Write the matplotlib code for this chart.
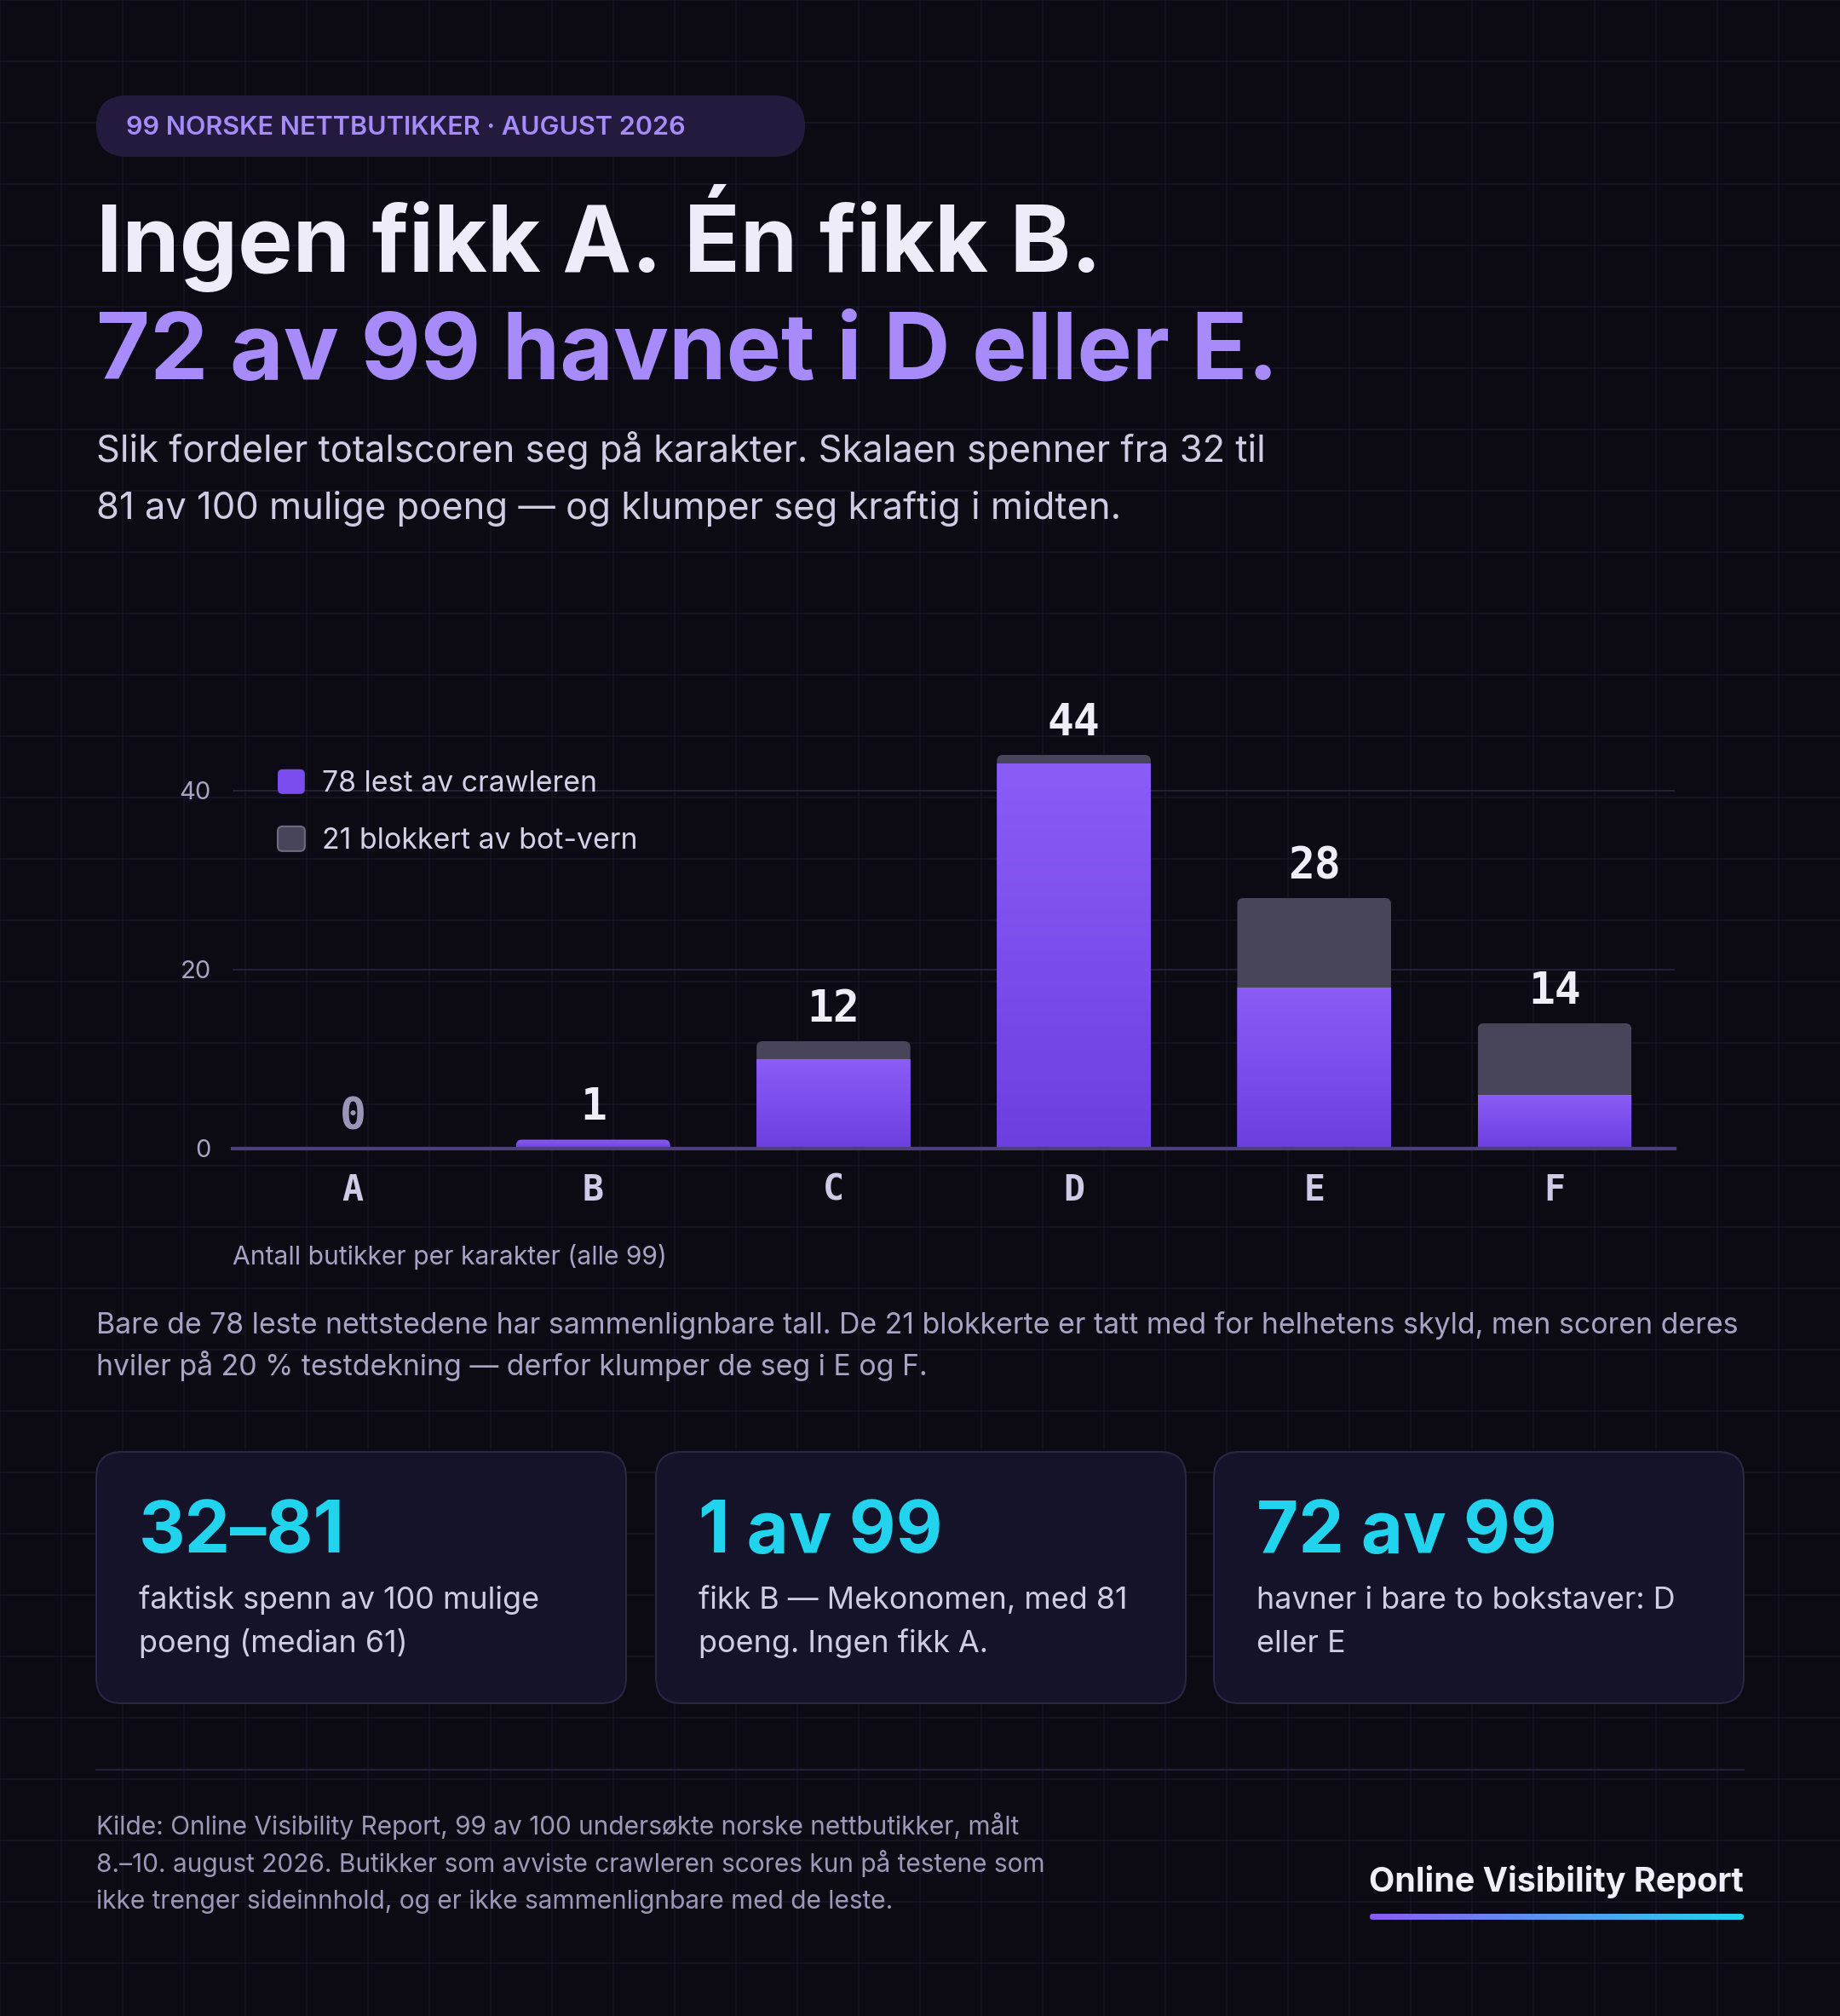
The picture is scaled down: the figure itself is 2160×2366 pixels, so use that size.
import numpy as np
import matplotlib
matplotlib.use("Agg")
import matplotlib.pyplot as plt
from matplotlib.patches import FancyBboxPatch, Patch
from matplotlib.colors import LinearSegmentedColormap
from matplotlib.legend_handler import HandlerPatch

# data
grades = ["A", "B", "C", "D", "E", "F"]
read_counts = [0, 1, 10, 43, 18, 6]
blocked_counts = [0, 0, 2, 1, 10, 8]
y_ticks = [0, 20, 40]

pill_text = "99 NORSKE NETTBUTIKKER · AUGUST 2026"
title_1 = "Ingen fikk A. Én fikk B."
title_2 = "72 av 99 havnet i D eller E."
subtitle_lines = [
    "Slik fordeler totalscoren seg på karakter. Skalaen spenner fra 32 til",
    "81 av 100 mulige poeng — og klumper seg kraftig i midten.",
]
axis_caption = "Antall butikker per karakter (alle 99)"
note_lines = [
    "Bare de 78 leste nettstedene har sammenlignbare tall. De 21 blokkerte er tatt med for helhetens skyld, men scoren deres",
    "hviler på 20 % testdekning — derfor klumper de seg i E og F.",
]
card_numbers = ["32–81", "1 av 99", "72 av 99"]
card_texts = [
    ["faktisk spenn av 100 mulige", "poeng (median 61)"],
    ["fikk B — Mekonomen, med 81", "poeng. Ingen fikk A."],
    ["havner i bare to bokstaver: D", "eller E"],
]
footer_lines = [
    "Kilde: Online Visibility Report, 99 av 100 undersøkte norske nettbutikker, målt",
    "8.–10. august 2026. Butikker som avviste crawleren scores kun på testene som",
    "ikke trenger sideinnhold, og er ikke sammenlignbare med de leste.",
]
brand = "Online Visibility Report"

plt.rcParams['font.family'] = ['Inter', 'DejaVu Sans']

BG = '#0c0b14'
PURPLE = '#7c4dee'
GRAY = '#48445a'
W, H = 2160, 2366

fig = plt.figure(figsize=(W / 100, H / 100), dpi=100, facecolor=BG)

# background layer in pixel coordinates
bg = fig.add_axes([0, 0, 1, 1])
bg.set_zorder(0)
bg.axis('off')
grid_pos = np.arange(0, max(W, H), 72)
bg.vlines(grid_pos[grid_pos < W], 0, H, color='#141223', lw=1.4, zorder=0)
bg.hlines(grid_pos[grid_pos < H], 0, W, color='#141223', lw=1.4, zorder=0)

# pill
bg.add_patch(FancyBboxPatch((113, 112), 832, 72, boxstyle="round,pad=0,rounding_size=36",
                            facecolor='#231a3e', edgecolor='none', zorder=2))
bg.text(148, 158, pill_text, fontsize=22, fontweight='semibold', color='#a78bfa',
        va='baseline', zorder=3)

# headline
bg.text(113, 319, title_1, fontsize=78, fontweight='bold', color='#eeecf8', va='baseline')
bg.text(113, 444, title_2, fontsize=78, fontweight='bold', color='#a78bfa', va='baseline')
for yb, line in zip([542, 609], subtitle_lines):
    bg.text(113, yb, line, fontsize=31.3, color='#d0cce4', va='baseline')

# chart
ax = fig.add_axes([273 / W, (H - 1348) / H, 1693 / W, 525 / H])
ax.set_zorder(1)
ax.patch.set_alpha(0)

x = np.arange(len(grades))
read = np.array(read_counts)
blocked = np.array(blocked_counts)
totals = read + blocked
bw = 0.64

bars_read = ax.bar(x, read, width=bw, color=PURPLE, linewidth=0, zorder=2)
bars_block = ax.bar(x, blocked, bottom=read, width=bw, color=GRAY, linewidth=0, zorder=2)

px_x = 1693 / 6
px_y = 525 / 50
grad = LinearSegmentedColormap.from_list('bar', ['#6c3fdf', '#8b5cf6'])
for i in range(len(grades)):
    if totals[i] == 0:
        continue
    stack = FancyBboxPatch((x[i] - bw / 2, -3), bw, totals[i] + 3,
                           boxstyle=f"round,pad=0,rounding_size={7 / px_x}",
                           mutation_aspect=px_x / px_y, transform=ax.transData)
    bars_read[i].set_clip_path(stack)
    bars_block[i].set_clip_path(stack)
    if read[i] > 0:
        im = ax.imshow(np.linspace(0, 1, 256).reshape(-1, 1), cmap=grad, origin='lower',
                       extent=(x[i] - bw / 2, x[i] + bw / 2, 0, read[i]),
                       aspect='auto', interpolation='bilinear', zorder=3)
        im.set_clip_path(stack)

for i, t in enumerate(totals):
    ax.annotate(f"{t}", xy=(x[i], t), xytext=(0, 23 * 0.72), textcoords='offset points',
                ha='center', va='baseline', fontsize=37, fontweight='bold',
                family='DejaVu Sans Mono', color='#9b95b8' if t == 0 else '#efedf8', zorder=5)

ax.set_xlim(-0.5, 5.5)
ax.set_ylim(0, 50)
ax.set_xticks(x, grades)
ax.set_yticks(y_ticks)
ax.tick_params(axis='x', length=0, pad=20, labelsize=30, labelcolor='#cfcae6')
ax.tick_params(axis='y', length=0, pad=18, labelsize=21, labelcolor='#a8a2c4')
for lab in ax.get_xticklabels():
    lab.set_fontfamily('DejaVu Sans Mono')
    lab.set_fontweight('bold')
ax.grid(axis='y', color='#231f36', lw=1.5)
ax.set_axisbelow(True)
for s in ax.spines.values():
    s.set_visible(False)
ax.axhline(0, color='#4b3f7c', lw=3, zorder=4, clip_on=False)


class RoundHandler(HandlerPatch):
    def create_artists(self, legend, orig_handle, xdescent, ydescent, width, height, fontsize, trans):
        p = FancyBboxPatch((-xdescent, -ydescent), width, height,
                           boxstyle=f"round,pad=0,rounding_size={height * 0.2}",
                           facecolor=orig_handle.get_facecolor(), edgecolor=orig_handle.get_edgecolor(),
                           linewidth=orig_handle.get_linewidth(), transform=trans)
        return [p]


handles = [
    Patch(facecolor=PURPLE, edgecolor='none', label=f"{read.sum()} lest av crawleren"),
    Patch(facecolor=GRAY, edgecolor='#6e6a80', linewidth=1.5, label=f"{blocked.sum()} blokkert av bot-vern"),
]
ax.legend(handles=handles, loc='upper left', bbox_to_anchor=(0.0313, 0.848), frameon=False,
          fontsize=24.4, labelcolor='#d4d0e8', handlelength=0.94, handleheight=0.94,
          handletextpad=0.6, labelspacing=1.0, borderpad=0, borderaxespad=0,
          handler_map={Patch: RoundHandler()})

bg.text(273, 1484, axis_caption, fontsize=21.6, color='#a8a2c4', va='baseline')

for yb, line in zip([1565, 1614], note_lines):
    bg.text(113, yb, line, fontsize=24.4, color='#a9a3c5', va='baseline')

# stat cards
for cx, num, lines in zip([113, 770, 1425], card_numbers, card_texts):
    bg.add_patch(FancyBboxPatch((cx, 1704), 622, 295, boxstyle="round,pad=0,rounding_size=30",
                                facecolor='#15132a', edgecolor='#2a2642', lw=1.5, zorder=2))
    bg.text(cx + 50, 1822, num, fontsize=61, fontweight='bold', color='#22d3ee',
            va='baseline', zorder=3)
    for yb, line in zip([1888, 1939], lines):
        bg.text(cx + 50, yb, line, fontsize=25.8, color='#d0cce4', va='baseline', zorder=3)

# footer
bg.plot([113, 2047], [2077, 2077], color='#24203a', lw=1.5, zorder=1)
for yb, line in zip([2153, 2197, 2240], footer_lines):
    bg.text(113, yb, line, fontsize=21.5, color='#9d97b8', va='baseline')
bg.text(2047, 2220, brand, ha='right', va='baseline', fontsize=28.4, fontweight='bold', color='#f0eef8')
uline = FancyBboxPatch((1608, 2246), 439, 7, boxstyle="round,pad=0,rounding_size=3.5",
                       transform=bg.transData)
ug = bg.imshow(np.linspace(0, 1, 256).reshape(1, -1),
               cmap=LinearSegmentedColormap.from_list('ul', ['#8b5cf6', '#22d3ee']),
               extent=(1608, 2047, 2253, 2246), aspect='auto', zorder=3)
ug.set_clip_path(uline)

bg.set_xlim(0, W)
bg.set_ylim(H, 0)

fig.savefig('out.png', dpi=100, facecolor=BG)
